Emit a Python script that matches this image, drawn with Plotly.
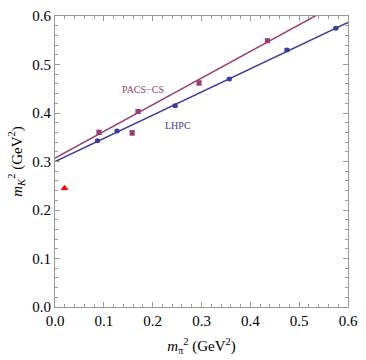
import plotly.graph_objects as go

# PACS-CS lattice points
pacs_x = [0.090, 0.158, 0.170, 0.295, 0.435]
pacs_y = [0.360, 0.359, 0.403, 0.462, 0.549]
pacs_err = [0.004, 0.004, 0.003, 0.004, 0.003]

# LHPC lattice points
lhpc_x = [0.087, 0.127, 0.246, 0.357, 0.475, 0.575]
lhpc_y = [0.343, 0.363, 0.415, 0.470, 0.530, 0.575]
lhpc_err = [0.002, 0.002, 0.002, 0.002, 0.003, 0.002]

# physical point
phys_x = [0.0195]
phys_y = [0.245]

# linear fits (intercept, slope)
pacs_fit = (0.307, 0.550)
lhpc_fit = (0.300, 0.478)
fit_x = [0.0, 0.6]

purple = '#993d71'
blue = '#3d3d99'
frame = '#999999'
serif = 'Liberation Serif, Times New Roman, serif'

fig = go.Figure()

for (b, m), col in [(pacs_fit, purple), (lhpc_fit, blue)]:
    fig.add_trace(go.Scatter(x=fit_x, y=[b + m * x for x in fit_x], mode='lines',
                             line=dict(color=col, width=1.5), hoverinfo='skip'))

fig.add_trace(go.Scatter(x=pacs_x, y=pacs_y, mode='markers',
                         marker=dict(color=purple, size=5, symbol='square'),
                         error_y=dict(array=pacs_err, color=purple, thickness=1.2, width=2.5)))
fig.add_trace(go.Scatter(x=lhpc_x, y=lhpc_y, mode='markers',
                         marker=dict(color=blue, size=5, symbol='circle'),
                         error_y=dict(array=lhpc_err, color=blue, thickness=1.2, width=2.5)))
fig.add_trace(go.Scatter(x=phys_x, y=phys_y, mode='markers',
                         marker=dict(color='red', size=7, symbol='triangle-up')))

fig.add_annotation(x=0.181, y=0.448, text='PACS\u2212CS', showarrow=False,
                   font=dict(family=serif, size=10, color=purple))
fig.add_annotation(x=0.251, y=0.374, text='LHPC', showarrow=False,
                   font=dict(family=serif, size=10, color=blue))

axis_common = dict(
    range=[0, 0.6], dtick=0.1, tickformat='.1f', showgrid=False, zeroline=False,
    showline=True, linecolor=frame, linewidth=1, mirror='allticks',
    ticks='inside', ticklen=5, tickcolor=frame,
    minor=dict(dtick=0.02, ticks='inside', ticklen=3, tickcolor=frame),
    tickfont=dict(family=serif, size=15, color='black'),
)

fig.update_layout(
    width=366, height=360,
    margin=dict(l=55, r=10, t=8, b=52),
    showlegend=False,
    plot_bgcolor='white', paper_bgcolor='white',
    xaxis=dict(axis_common,
               title=dict(text='<i>m</i><sub>\u03c0</sub><sup>2</sup> (GeV<sup>2</sup>)',
                          font=dict(family=serif, size=15, color='black'), standoff=12)),
    yaxis=dict(axis_common,
               title=dict(text='<i>m</i><sub><i>K</i></sub><sup>2</sup> (GeV<sup>2</sup>)',
                          font=dict(family=serif, size=15, color='black'), standoff=6)),
)

fig.write_html('out.html', config={'displayModeBar': False},
               post_script="document.body.style.margin='0';")
